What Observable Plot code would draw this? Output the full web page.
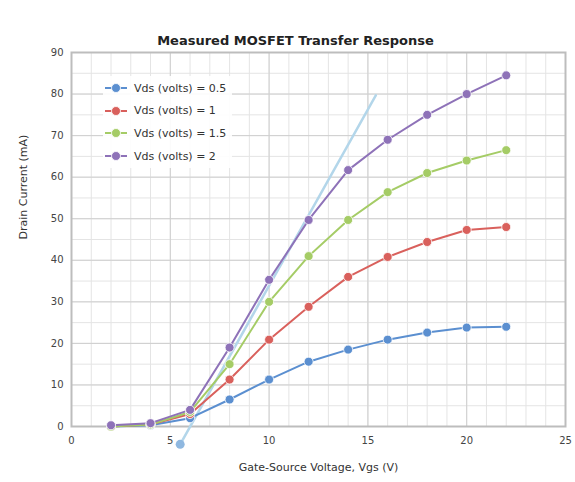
<!DOCTYPE html>
<html>
<head>
<meta charset="utf-8">
<script src="https://cdn.jsdelivr.net/npm/d3@7"></script>
<script src="https://cdn.jsdelivr.net/npm/@observablehq/plot@0.6"></script>
<style>
  body { margin: 0; background: #fff; }
  #wrap { position: relative; width: 575px; height: 482px; font-family: "DejaVu Sans", sans-serif; }
  #legend { position: absolute; left: 103px; top: 76px; background: rgba(255,255,255,0.9); padding: 1px 6px 1px 2px; }
  .item { display: flex; align-items: center; height: 22.6px; font-size: 11px; color: #333; }
  .item svg { margin-right: 7px; }
</style>
</head>
<body>
<div id="wrap"></div>
<script>
const title = "Measured MOSFET Transfer Response";
const xLabel = "Gate-Source Voltage, Vgs (V)";
const yLabel = "Drain Current (mA)";
const seriesNames = ["Vds (volts) = 0.5", "Vds (volts) = 1", "Vds (volts) = 1.5", "Vds (volts) = 2"];
const seriesColors = ["#5b8fd0", "#d9605c", "#a5cc66", "#8e72b8"];
const xTicks = [0, 5, 10, 15, 20, 25];
const yTicks = [0, 10, 20, 30, 40, 50, 60, 70, 80, 90];

const vgs = [2, 4, 6, 8, 10, 12, 14, 16, 18, 20, 22];
const idBlue   = [0, 0.3, 2, 6.5, 11.3, 15.6, 18.5, 20.9, 22.6, 23.8, 24];
const idRed    = [0, 0.5, 3, 11.3, 20.9, 28.8, 36, 40.8, 44.4, 47.3, 48];
const idGreen  = [0, 0.5, 3.5, 15, 30, 41, 49.7, 56.4, 61, 64, 66.5];
const idPurple = [0.3, 0.8, 4, 19, 35.3, 49.7, 61.7, 69, 75, 80, 84.5];

const fitX = [5.5, 15.4];
const fitY = [-4.3, 79.7];

const allSeries = [idBlue, idRed, idGreen, idPurple];
const rows = [];
allSeries.forEach((vals, i) => vals.forEach((v, j) => rows.push({series: seriesNames[i], x: vgs[j], y: v})));
const fitRows = fitX.map((x, i) => ({x, y: fitY[i]}));

const chart = Plot.plot({
  width: 575,
  height: 482,
  marginTop: 52,
  marginBottom: 56,
  marginLeft: 71,
  marginRight: 10,
  style: {fontFamily: "DejaVu Sans, sans-serif", fontSize: "10px", background: "#fff", color: "#444"},
  x: {domain: [0, 25], ticks: xTicks, tickSize: 0, tickPadding: 10, label: null},
  y: {domain: [0, 90], ticks: yTicks, tickSize: 0, tickPadding: 8, label: null},
  color: {domain: seriesNames, range: seriesColors},
  marks: [
    Plot.gridX(d3.range(0, 26, 1), {stroke: "#e4e4e4", strokeOpacity: 1}),
    Plot.gridY(d3.range(0, 91, 5), {stroke: "#e4e4e4", strokeOpacity: 1}),
    Plot.gridX(xTicks, {stroke: "#cfcfcf", strokeOpacity: 1}),
    Plot.gridY(yTicks, {stroke: "#cfcfcf", strokeOpacity: 1}),
    Plot.frame({stroke: "#bdbdbd", strokeWidth: 2}),
    Plot.line(fitRows, {x: "x", y: "y", stroke: "#b3d6ea", strokeWidth: 2.5}),
    Plot.dot(fitRows.slice(0, 1), {x: "x", y: "y", fill: "#8fb8e0", r: 4.5}),
    Plot.line(rows, {x: "x", y: "y", z: "series", stroke: "series", strokeWidth: 2}),
    Plot.dot(rows, {x: "x", y: "y", fill: "series", r: 4.5, stroke: "#fff", strokeWidth: 0.8}),
    Plot.text([title], {frameAnchor: "top", dy: -17, dx: -23, fontSize: 13, fontWeight: "bold", fill: "#222"}),
    Plot.text([xLabel], {frameAnchor: "bottom", dy: 44, fontSize: 11, fill: "#333"}),
    Plot.text([yLabel], {frameAnchor: "left", dx: -48, rotate: -90, fontSize: 11, fill: "#333"})
  ]
});

const wrap = document.getElementById("wrap");
wrap.appendChild(chart);

const legend = document.createElement("div");
legend.id = "legend";
seriesNames.forEach((name, i) => {
  const item = document.createElement("div");
  item.className = "item";
  const s = d3.create("svg").attr("width", 22).attr("height", 12);
  s.append("line").attr("x1", 0).attr("x2", 22).attr("y1", 6).attr("y2", 6).attr("stroke", seriesColors[i]).attr("stroke-width", 2);
  s.append("circle").attr("cx", 11).attr("cy", 6).attr("r", 4.5).attr("fill", seriesColors[i]).attr("stroke", "#fff").attr("stroke-width", 0.8);
  item.appendChild(s.node());
  const t = document.createElement("span");
  t.textContent = name;
  item.appendChild(t);
  legend.appendChild(item);
});
wrap.appendChild(legend);
</script>
</body>
</html>
